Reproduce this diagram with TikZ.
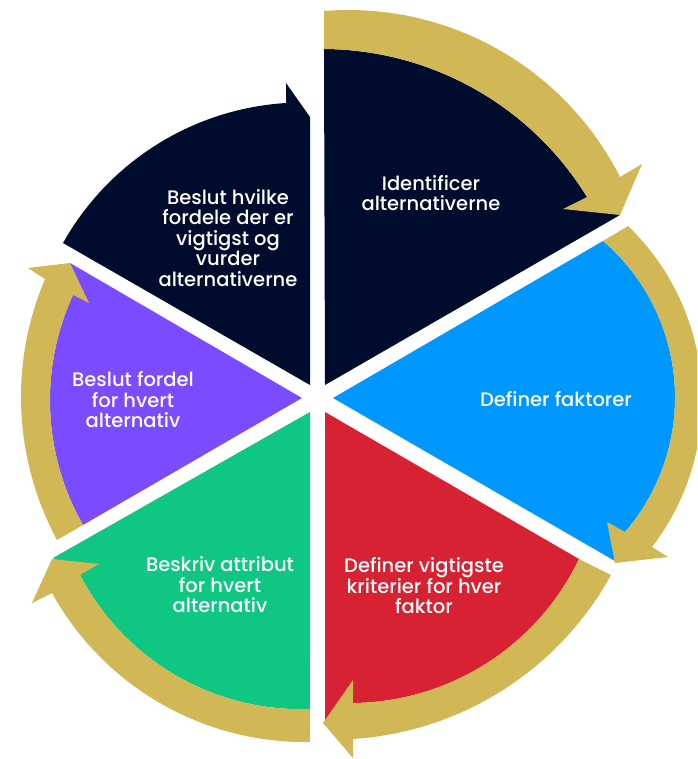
\documentclass[tikz,border=0pt]{standalone}
\usepackage{fontspec}
\setmainfont{Poppins Medium}
\definecolor{cnavy}{HTML}{000C2D}
\definecolor{cblue}{HTML}{0098FE}
\definecolor{cred}{HTML}{D62233}
\definecolor{cgreen}{HTML}{0FC683}
\definecolor{cpurple}{HTML}{7B4BFF}
\definecolor{cgold}{HTML}{D1B755}
\makeatletter
% circle through three points (px); defines \<name>F (p1->p3) and \<name>R (p3->p1) as "-- plot" path pieces
\newcommand\fitarc[7]{%
  \pgfmathsetmacro\fa@x{#2/100}\pgfmathsetmacro\fa@y{#3/100}%
  \pgfmathsetmacro\fb@x{#4/100}\pgfmathsetmacro\fb@y{#5/100}%
  \pgfmathsetmacro\fc@x{#6/100}\pgfmathsetmacro\fc@y{#7/100}%
  \pgfmathsetmacro\f@d{2*((\fa@x)*((\fb@y)-(\fc@y))+(\fb@x)*((\fc@y)-(\fa@y))+(\fc@x)*((\fa@y)-(\fb@y)))}%
  \pgfmathsetmacro\f@sa{(\fa@x)*(\fa@x)+(\fa@y)*(\fa@y)}%
  \pgfmathsetmacro\f@sb{(\fb@x)*(\fb@x)+(\fb@y)*(\fb@y)}%
  \pgfmathsetmacro\f@sc{(\fc@x)*(\fc@x)+(\fc@y)*(\fc@y)}%
  \pgfmathsetmacro\f@ux{((\f@sa)*((\fb@y)-(\fc@y))+(\f@sb)*((\fc@y)-(\fa@y))+(\f@sc)*((\fa@y)-(\fb@y)))/(\f@d)}%
  \pgfmathsetmacro\f@uy{((\f@sa)*((\fc@x)-(\fb@x))+(\f@sb)*((\fa@x)-(\fc@x))+(\f@sc)*((\fb@x)-(\fa@x)))/(\f@d)}%
  \pgfmathsetmacro\f@r{sqrt(((\fa@x)-(\f@ux))^2+((\fa@y)-(\f@uy))^2)}%
  \pgfmathsetmacro\f@a{atan2((\fa@y)-(\f@uy),(\fa@x)-(\f@ux))}%
  \pgfmathsetmacro\f@b{atan2((\fb@y)-(\f@uy),(\fb@x)-(\f@ux))}%
  \pgfmathsetmacro\f@c{atan2((\fc@y)-(\f@uy),(\fc@x)-(\f@ux))}%
  \pgfmathsetmacro\f@b{(\f@a)+mod((\f@b)-(\f@a)+540,360)-180}%
  \pgfmathsetmacro\f@c{(\f@b)+mod((\f@c)-(\f@b)+540,360)-180}%
  \expandafter\xdef\csname #1F\endcsname{-- plot[domain=\f@a:\f@c,samples=70] ({100*((\f@ux)+(\f@r)*cos(\noexpand\x))},{100*((\f@uy)+(\f@r)*sin(\noexpand\x))})}%
  \expandafter\xdef\csname #1R\endcsname{-- plot[domain=\f@c:\f@a,samples=70] ({100*((\f@ux)+(\f@r)*cos(\noexpand\x))},{100*((\f@uy)+(\f@r)*sin(\noexpand\x))})}%
}
\makeatother
% inner edges of the gold bands (= outer edges of the sectors)
\fitarc{IA}{324}{49}{503}{107}{587}{197}
\fitarc{IB}{603}{241}{675}{400}{625}{532}
\fitarc{IC}{579}{559}{470}{673}{353}{703}
\fitarc{ID}{310}{709}{167}{670}{80}{575}
\fitarc{IE}{83}{525}{50}{397}{73}{295}
\fitarc{SX}{63}{243}{153}{147}{286}{103}
% outer edges of the gold bands
\fitarc{OA}{324}{11}{520}{63}{620}{177}
\fitarc{OB}{628}{226}{702}{400}{652}{547}
\fitarc{OC}{611}{575}{503}{690}{353}{739}
\fitarc{OD}{310}{742}{167}{707}{52}{593}
\fitarc{OE}{57}{540}{21}{397}{45}{279}
\begin{document}
\begin{tikzpicture}[x=1pt,y=-1pt,
  lbl/.style={text=white,align=center,inner sep=0pt,font=\fontsize{19.5}{20.5}\selectfont},
  goldarrow/.style={fill=cgold}]
\clip (0,0) rectangle (697,759);
\fill[white] (0,0) rectangle (697,759);
% sectors
\fill[cnavy] (325,385) \IAF -- (620,215) -- cycle;
\fill[cblue] (333,398) \IBF -- (615,561) -- cycle;
\fill[cred] (325,412) \ICF -- (325,721) -- cycle;
\fill[cgreen] (310,412) \IDF -- (53,558) -- cycle;
\fill[cpurple] (302,398) -- (70,263) \IER -- cycle;
\fill[cnavy] (310,385) \SXF -- (286,83) -- (310,117) -- cycle;
% gold arrows
\fill[goldarrow] (324,49) \OAF -- (642,164) -- (620,215) -- (563,209) \IAR -- cycle;
\fill[goldarrow] (603,241) \OBF -- (668,557) -- (615,563) -- (607,522) \IBR -- cycle;
\fill[goldarrow] (579,559) \OCF -- (353,758) -- (323,723) -- (353,680) \ICR -- cycle;
\fill[goldarrow] (310,709) \ODF -- (32,603) -- (52,559) -- (99,564) \IDR -- cycle;
\fill[goldarrow] (83,525) \OEF -- (28,268) -- (70,263) -- (89,303) \IER -- cycle;
% labels
\node[lbl] (t1) at (431,193) {Identificer\\alternativerne};
\node[lbl] (t2) at (556,399) {Definer faktorer};
\node[lbl] (t3) at (424,586) {Definer vigtigste\\kriterier for hver\\faktor};
\node[lbl] (t4) at (220,585) {Beskriv attribut\\for hvert\\alternativ};
\node[lbl] (t5) at (133,400) {Beslut fordel\\for hvert\\alternativ};
\node[lbl] (t6) at (228,238) {Beslut hvilke\\fordele der er\\vigtigst og\\vurder\\alternativerne};
\end{tikzpicture}
\end{document}
